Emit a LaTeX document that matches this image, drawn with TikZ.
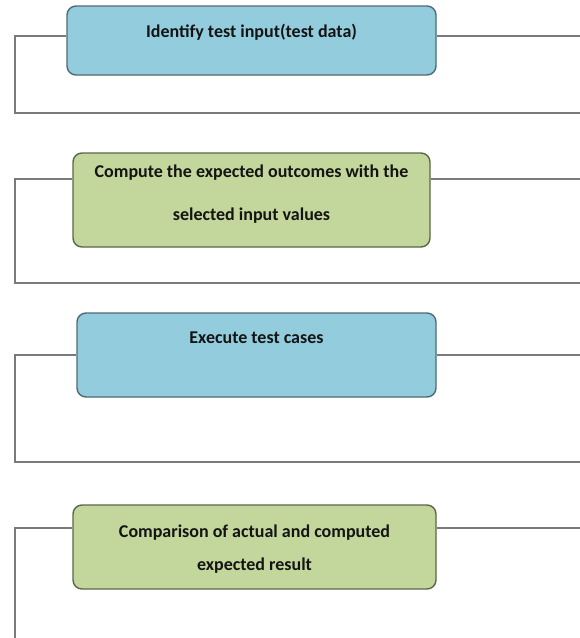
\documentclass[tikz,border=0pt]{standalone}
\usepackage{fontspec}
\setmainfont{Carlito}
\definecolor{bluefill}{HTML}{93CDDD}
\definecolor{blueedge}{HTML}{4E6B74}
\definecolor{greenfill}{HTML}{C3D69B}
\definecolor{greenedge}{HTML}{5C6649}
\definecolor{frameline}{HTML}{7A7A7A}
\definecolor{txtcol}{HTML}{141414}
\tikzset{
  stepbox/.style={draw, line width=1.4pt, rounded corners=9pt, inner sep=0pt},
  bluebox/.style={stepbox, fill=bluefill, draw=blueedge},
  greenbox/.style={stepbox, fill=greenfill, draw=greenedge},
  steptext/.style={font=\bfseries\fontsize{18}{21}\selectfont, text=txtcol, align=center, inner sep=0pt},
  frame/.style={draw=frameline, line width=1.1pt}
}
\begin{document}
\begin{tikzpicture}[x=1pt,y=-1pt]
\useasboundingbox (0,0) rectangle (580,638);
\clip (0,0) rectangle (580,638);
\fill[white] (0,0) rectangle (580,638);

% Panel 1
\coordinate (p1a) at (15,36);
\coordinate (p1b) at (15,113);
\coordinate (p1c) at (590,113);
\coordinate (p1d) at (590,36);
\node[bluebox, minimum width=369pt, minimum height=69pt] (b1) at (251.5,40.5) {};
\draw[frame] (b1.west |- p1a) -- (p1a) -- (p1b) -- (p1c);
\draw[frame] (b1.east |- p1d) -- (p1d);
\node[steptext] (t1) at (251.5,32) {Identify test input(test data)};

% Panel 2
\coordinate (p2a) at (15,179);
\coordinate (p2b) at (15,283);
\coordinate (p2c) at (590,283);
\coordinate (p2d) at (590,179);
\node[greenbox, minimum width=357pt, minimum height=94pt] (b2) at (251.5,200) {};
\draw[frame] (b2.west |- p2a) -- (p2a) -- (p2b) -- (p2c);
\draw[frame] (b2.east |- p2d) -- (p2d);
\node[steptext, font=\bfseries\fontsize{18}{43}\selectfont] (t2) at (251.5,194) {Compute the expected outcomes with the\\selected input values};

% Panel 3
\coordinate (p3a) at (15,355);
\coordinate (p3b) at (15,462);
\coordinate (p3c) at (590,462);
\coordinate (p3d) at (590,355);
\node[bluebox, minimum width=359pt, minimum height=84pt] (b3) at (256.5,355) {};
\draw[frame] (b3.west |- p3a) -- (p3a) -- (p3b) -- (p3c);
\draw[frame] (b3.east |- p3d) -- (p3d);
\node[steptext] (t3) at (256.5,338) {Execute test cases};

% Panel 4
\coordinate (p4a) at (15,528);
\coordinate (p4b) at (15,650);
\coordinate (p4d) at (590,528);
\node[greenbox, minimum width=363pt, minimum height=84pt] (b4) at (254.5,547) {};
\draw[frame] (b4.west |- p4a) -- (p4a) -- (p4b);
\draw[frame] (b4.east |- p4d) -- (p4d);
\node[steptext, font=\bfseries\fontsize{18}{33}\selectfont] (t4) at (254.5,549) {Comparison of actual and computed\\expected result};
\end{tikzpicture}
\end{document}
